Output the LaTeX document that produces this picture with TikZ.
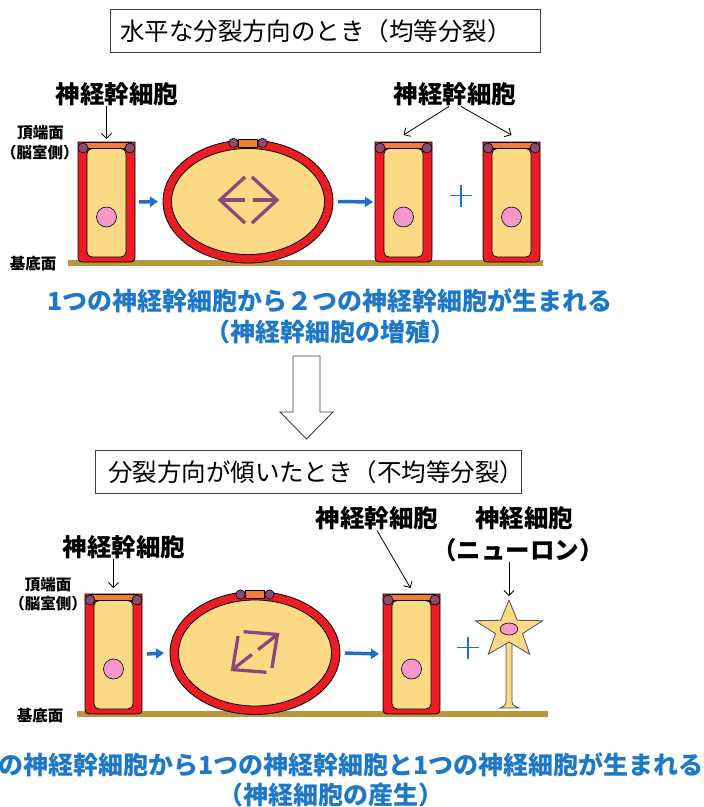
\documentclass[tikz,border=0pt]{standalone}
\usepackage{fontspec}
\usetikzlibrary{arrows.meta}
\newfontfamily\jpfont{Noto Sans CJK JP}

\definecolor{cellred}{HTML}{EC1C24}
\definecolor{cytoplasm}{HTML}{FBD985}
\definecolor{apical}{HTML}{F07D32}
\definecolor{junction}{HTML}{8C4B6E}
\definecolor{nucleus}{HTML}{F596CD}
\definecolor{basal}{HTML}{B9963C}
\definecolor{spindlecol}{HTML}{8C4878}
\definecolor{arrowblue}{HTML}{1F6FC8}
\definecolor{textblue}{HTML}{1E78C8}
\definecolor{neuronline}{HTML}{505050}
\definecolor{boxline}{HTML}{404040}

\begin{document}
\begin{tikzpicture}[x=1pt, y=-1pt,
  titlebox/.style={draw=boxline, line width=0.9pt, align=left, inner ysep=0pt,
    minimum height=43pt, font=\jpfont\fontsize{24.5}{28}\selectfont,
    text height=21.5pt, text depth=3pt},
  lbl/.style={inner sep=0pt, font=\jpfont\bfseries\fontsize{24.5}{28}\selectfont,
    text height=21.5pt, text depth=3pt},
  smalllbl/.style={inner sep=0pt, font=\jpfont\bfseries\fontsize{15.5}{18}\selectfont,
    text height=13.6pt, text depth=2pt},
  bluetxt/.style={inner sep=0pt, text=textblue,
    font=\jpfont\bfseries\fontsize{25}{28}\selectfont,
    text height=22pt, text depth=3pt},
  thinarrow/.style={draw=black, line width=0.8pt,
    -{Straight Barb[length=5pt, width=10pt]}},
  bluearrow/.style={draw=arrowblue, line width=3.5pt,
    -{Triangle[length=8pt, width=10pt]}},
  plussign/.style={draw=arrowblue, line width=1.8pt},
  basalline/.style={draw=basal, line width=6.5pt},
  spindle/.style={draw=spindlecol, line width=3.3pt, line join=miter},
  hollowarrow/.style={draw=boxline, fill=white, line width=0.9pt},
  outline/.style={draw=black, line width=0.8pt},
  stemcell/.pic={
    % outer membrane, flat apical top and rounded basal end
    \filldraw[outline, fill=cellred] (0,0) -- (0,111) .. controls (0,120) .. (9,120)
      -- (48,120) .. controls (57,120) .. (57,111) -- (57,0) -- cycle;
    \filldraw[outline, fill=cytoplasm, rounded corners=5pt] (9,6.5) rectangle (48,115);
    \filldraw[outline, line width=0.6pt, fill=apical] (5,0) rectangle (52,6);
    \filldraw[outline, line width=0.6pt, fill=junction]
      (5,6) circle[radius=5] (52,6) circle[radius=5];
    \filldraw[outline, line width=0.6pt, fill=nucleus] (28.5,75) circle[radius=10];
    \coordinate (-top) at (28.5,0);
    \coordinate (-west) at (0,60);
    \coordinate (-east) at (57,60);
  },
  mitcell/.pic={
    \filldraw[outline, fill=cellred] (0,0) ellipse[x radius=85, y radius=61.5];
    \filldraw[outline, fill=cytoplasm] (0,0) ellipse[x radius=76.5, y radius=53];
    \filldraw[outline, line width=0.6pt, fill=apical] (-9.5,-62.5) rectangle (9.5,-54.5);
    \filldraw[outline, line width=0.6pt, fill=junction]
      (-14.5,-58.5) circle[radius=4.7] (14.5,-58.5) circle[radius=4.7];
    \coordinate (-west) at (-85,0);
    \coordinate (-east) at (85,0);
  },
  spindlemark/.pic={
    \draw[spindle] (-3.5,-23) -- (-28.5,0) -- (-3.5,23);
    \draw[spindle] (3.5,-23) -- (28.5,0) -- (3.5,23);
    \draw[spindle] (-28.5,0) -- (-4,0);
    \draw[spindle] (4,0) -- (28.5,0);
  },
]
\useasboundingbox (0,0) rectangle (704,807);
\clip (0,0) rectangle (704,807);

% ---------- symmetric division ----------
\node[titlebox, text width=410pt, inner xsep=10pt] (title1) at (325,31)
  {水平な分裂方向のとき（均等分裂）};

\node[lbl] (lab1) at (117,94) {神経幹細胞};
\node[lbl] (lab2) at (455,94) {神経幹細胞};
\node[smalllbl] (apical1) at (40.5,133) {頂端面};
\node[smalllbl] (vent1) at (40,153) {（脳室側）};
\node[smalllbl] (basal1) at (33,264) {基底面};

\draw[basalline] (68,263) -- (543,263);

\pic (c1) at (78,142) {stemcell};
\pic (e1) at (248,201.5) {mitcell};
\pic at (248.5,200) {spindlemark};
\pic (c2) at (375,142) {stemcell};
\pic (c3) at (483,142) {stemcell};

\draw[bluearrow] ([xshift=4pt]c1-east) -- ([xshift=-5pt]e1-west);
\draw[bluearrow] ([xshift=5pt]e1-east) -- ([xshift=-2pt]c2-west);
\draw[plussign] (450,195.5) -- (472,195.5) (461,184.5) -- (461,206.5);

\draw[thinarrow] (lab1.south -| c1-top) -- ([yshift=3pt]c1-top);
\draw[thinarrow] ([xshift=-6pt]lab2.south) -- ([yshift=7pt]c2-top);
\draw[thinarrow] ([xshift=6pt]lab2.south) -- ([yshift=7pt]c3-top);

\node[bluetxt] (res1) at (330,301) {1つの神経幹細胞から２つの神経幹細胞が生まれる};
\node[bluetxt] (res1b) at (330,332) {（神経幹細胞の増殖）};

% ---------- transition arrow ----------
\draw[hollowarrow] (293,356) -- (320,356) -- (320,412) -- (333,412) -- (306.5,439)
  -- (280,412) -- (293,412) -- cycle;

% ---------- asymmetric division ----------
\node[titlebox, text width=400pt, inner xsep=13pt] (title2) at (308,472)
  {分裂方向が傾いたとき（不均等分裂）};

\node[lbl] (lab3) at (124,547) {神経幹細胞};
\node[lbl] (lab4) at (377,518) {神経幹細胞};
\node[lbl] (lab5) at (524,518) {神経細胞};
\node[lbl] (lab6) at (518,550) {（ニューロン）};
\node[smalllbl] (apical2) at (48,585) {頂端面};
\node[smalllbl] (vent2) at (48,604) {（脳室側）};
\node[smalllbl] (basal2) at (40,716) {基底面};

\draw[basalline] (77,714) -- (548,714);

\pic (c4) at (85,594) {stemcell};
\pic (e2) at (255,653) {mitcell};
\pic[rotate=38] at (255,652) {spindlemark};
\pic (c5) at (383,594) {stemcell};

% neuron: axon stem with foot, then star-shaped soma
\draw[draw=neuronline, fill=cytoplasm, line width=0.8pt]
  (506,640) -- (506,699) .. controls (506,705) .. (500,708) -- (519,708)
  .. controls (512,705) .. (512,699) -- (512,640) -- cycle;
\draw[draw=neuronline, fill=cytoplasm, line width=0.8pt, line join=miter]
  (509,600) -- (500.7,620.3) -- (475.3,620.7) -- (495.5,633.7) -- (488.2,654.3)
  -- (509,642) -- (529.8,654.3) -- (522.5,633.7) -- (542.7,620.7)
  -- (517.3,620.3) -- cycle;
\filldraw[outline, line width=0.6pt, fill=nucleus] (509,629) ellipse[x radius=8.8, y radius=6];
\coordinate (soma) at (509,600);

\draw[bluearrow] ([xshift=5pt]c4-east) -- ([xshift=-6pt]e2-west);
\draw[bluearrow] ([xshift=5pt]e2-east) -- ([xshift=-4pt]c5-west);
\draw[plussign] (457,647.5) -- (479,647.5) (468,636.5) -- (468,658.5);

\draw[thinarrow] (lab3.south -| c4-top) -- ([yshift=6pt]c4-top);
\draw[thinarrow] (lab4.south) -- ([yshift=6pt,xshift=-1pt]c5-top);
\draw[thinarrow] (lab6.south -| soma) -- ([yshift=4pt]soma);

\node[bluetxt] (res2) at (331,765) {1つの神経幹細胞から1つの神経幹細胞と1つの神経細胞が生まれる};
\node[bluetxt] (res2b) at (331,795) {（神経細胞の産生）};
\end{tikzpicture}
\end{document}
